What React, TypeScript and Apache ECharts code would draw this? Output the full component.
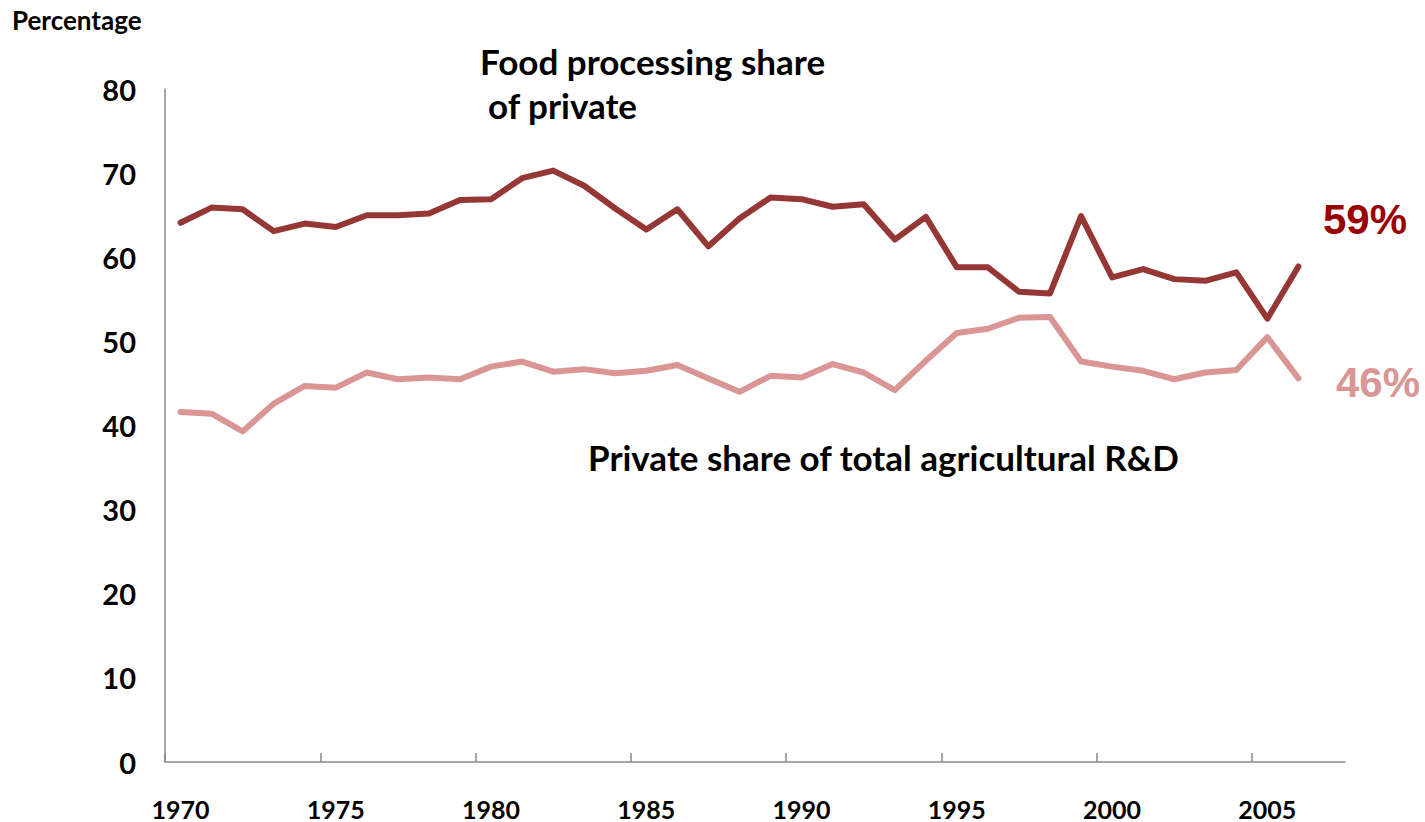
import { useEffect, useRef } from "react";
import * as echarts from "echarts";

// Years on the category axis (the axis runs one year past the last observation)
const years = [
  "1970", "1971", "1972", "1973", "1974", "1975", "1976", "1977", "1978", "1979",
  "1980", "1981", "1982", "1983", "1984", "1985", "1986", "1987", "1988", "1989",
  "1990", "1991", "1992", "1993", "1994", "1995", "1996", "1997", "1998", "1999",
  "2000", "2001", "2002", "2003", "2004", "2005", "2006", "2007",
];

// Food processing share of private agricultural R&D, percent (1970–2006)
const foodProcessingShare = [
  64.1, 65.9, 65.7, 63.1, 64.0, 63.6, 65.0, 65.0, 65.2, 66.8,
  66.9, 69.4, 70.3, 68.5, 65.8, 63.3, 65.7, 61.3, 64.6, 67.1,
  66.9, 66.0, 66.3, 62.1, 64.8, 58.8, 58.8, 55.9, 55.7, 64.9,
  57.6, 58.6, 57.4, 57.2, 58.2, 52.7, 58.9,
];

// Private share of total agricultural R&D, percent (1970–2006)
const privateShare = [
  41.6, 41.4, 39.3, 42.6, 44.7, 44.5, 46.3, 45.5, 45.7, 45.5,
  47.0, 47.6, 46.4, 46.7, 46.2, 46.5, 47.2, 45.6, 44.0, 45.9,
  45.7, 47.3, 46.3, 44.2, 47.7, 51.0, 51.5, 52.8, 52.9, 47.6,
  47.0, 46.5, 45.5, 46.3, 46.6, 50.5, 45.6,
];

// Value axis ticks
const yMin = 0;
const yMax = 80;
const yStep = 10;

// Tick marks sit every five years, up to the 2005 boundary
const tickedYears = years.slice(0, 35);

const DARK_RED = "#953735";
const ROSE = "#D99694";
const AXIS_GREY = "#8a8a8a";
const LABEL_FONT = "Lato, 'Noto Sans', sans-serif";
const END_FONT = "'Liberation Sans', Arial, sans-serif";

const PLOT_LEFT = 165;
const PLOT_TOP = 89;
const PLOT_WIDTH = 1180;
const PLOT_HEIGHT = 673;

export default function App() {
  const ref = useRef<HTMLDivElement>(null);

  useEffect(() => {
    if (!ref.current) return;
    const chart = echarts.init(ref.current, undefined, { renderer: "svg" });

    const lastFood = foodProcessingShare[foodProcessingShare.length - 1];
    const lastPrivate = privateShare[privateShare.length - 1];

    chart.setOption({
      animation: false,
      backgroundColor: "#ffffff",
      grid: [
        {
          left: PLOT_LEFT,
          top: PLOT_TOP,
          width: PLOT_WIDTH,
          height: PLOT_HEIGHT,
          containLabel: false,
          outerBoundsMode: "none",
        },
        {
          // same band width as the main grid, but only spanning the ticked years
          left: PLOT_LEFT,
          top: PLOT_TOP,
          width: (PLOT_WIDTH * tickedYears.length) / years.length,
          height: PLOT_HEIGHT,
          containLabel: false,
          outerBoundsMode: "none",
        },
      ],
      xAxis: [
        {
          type: "category",
          gridIndex: 0,
          data: years,
          boundaryGap: true,
          axisLine: { show: true, lineStyle: { color: AXIS_GREY, width: 1.5 } },
          axisTick: { show: false },
          axisLabel: {
            interval: 4,
            margin: 34,
            color: "#000",
            fontFamily: LABEL_FONT,
            fontWeight: "bold",
            fontSize: 25,
          },
          splitLine: { show: false },
        },
        {
          type: "category",
          gridIndex: 1,
          data: tickedYears,
          boundaryGap: true,
          axisLine: { show: false },
          axisLabel: { show: false },
          splitLine: { show: false },
          axisTick: {
            show: true,
            inside: true,
            length: 9,
            interval: 4,
            alignWithLabel: false,
            lineStyle: { color: AXIS_GREY, width: 1.5 },
          },
        },
      ],
      yAxis: [
        {
          type: "value",
          gridIndex: 0,
          min: yMin,
          max: yMax,
          interval: yStep,
          axisLine: { show: true, lineStyle: { color: AXIS_GREY, width: 1.5 } },
          axisTick: { show: false },
          splitLine: { show: false },
          axisLabel: {
            margin: 29,
            color: "#000",
            fontFamily: LABEL_FONT,
            fontWeight: "bold",
            fontSize: 29,
          },
        },
        {
          type: "value",
          gridIndex: 1,
          min: yMin,
          max: yMax,
          interval: yStep,
          show: false,
        },
      ],
      series: [
        {
          name: "Food processing share of private",
          type: "line",
          xAxisIndex: 0,
          yAxisIndex: 0,
          data: foodProcessingShare,
          showSymbol: false,
          symbol: "none",
          lineStyle: { color: DARK_RED, width: 6, cap: "round", join: "round" },
          z: 3,
        },
        {
          name: "Private share of total agricultural R&D",
          type: "line",
          xAxisIndex: 0,
          yAxisIndex: 0,
          data: privateShare,
          showSymbol: false,
          symbol: "none",
          lineStyle: { color: ROSE, width: 6, cap: "round", join: "round" },
          z: 2,
        },
      ],
      graphic: [
        {
          type: "text",
          x: 12,
          y: 20,
          style: {
            text: "Percentage",
            fill: "#000",
            font: `bold 26px ${LABEL_FONT}`,
            verticalAlign: "middle",
          },
        },
        {
          type: "text",
          x: 480,
          y: 61,
          style: {
            text: "Food processing share",
            fill: "#000",
            font: `bold 35px ${LABEL_FONT}`,
            verticalAlign: "middle",
          },
        },
        {
          type: "text",
          x: 488,
          y: 105,
          style: {
            text: "of private",
            fill: "#000",
            font: `bold 35px ${LABEL_FONT}`,
            verticalAlign: "middle",
          },
        },
        {
          type: "text",
          x: 588,
          y: 457,
          style: {
            text: "Private share of total agricultural R&D",
            fill: "#000",
            font: `bold 35px ${LABEL_FONT}`,
            verticalAlign: "middle",
          },
        },
        {
          type: "text",
          x: 1323,
          y: 219,
          style: {
            text: `${Math.round(lastFood)}%`,
            fill: "#990000",
            font: `bold 42px ${END_FONT}`,
            verticalAlign: "middle",
          },
        },
        {
          type: "text",
          x: 1336,
          y: 382,
          style: {
            text: `${Math.round(lastPrivate)}%`,
            fill: ROSE,
            font: `bold 42px ${END_FONT}`,
            verticalAlign: "middle",
          },
        },
      ],
    });

    return () => chart.dispose();
  }, []);

  return (
    <div
      ref={ref}
      style={{ position: "absolute", left: 0, top: 0, width: 1425, height: 822 }}
    />
  );
}
